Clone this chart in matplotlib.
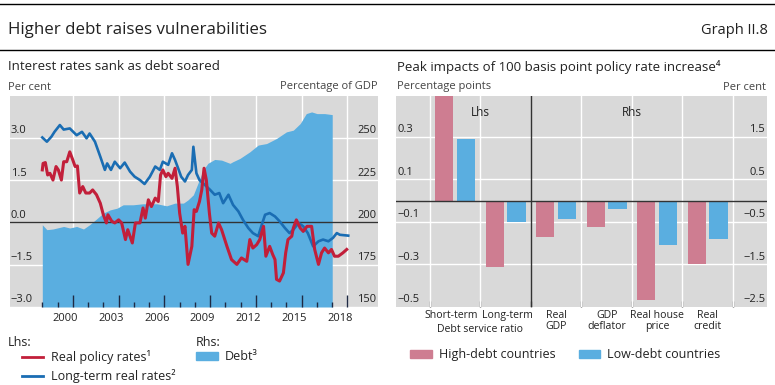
import matplotlib
matplotlib.use('Agg')
import matplotlib.pyplot as plt
import matplotlib.transforms as mtransforms
from matplotlib.patches import Patch
from matplotlib.lines import Line2D
import numpy as np

plt.rcParams['font.family'] = ['Open Sans', 'DejaVu Sans']

# ---- data: left panel ----
policy_t = [1999.0, 1999.05, 1999.2, 1999.35, 1999.5, 1999.7, 1999.9, 2000.05, 2000.25, 2000.4,
            2000.6, 2000.8, 2001.0, 2001.15, 2001.3, 2001.45, 2001.65, 2001.85, 2002.1, 2002.3,
            2002.55, 2002.8, 2003.0, 2003.2, 2003.3, 2003.55, 2003.75, 2004.0, 2004.2, 2004.45,
            2004.6, 2004.9, 2005.1, 2005.4, 2005.6, 2005.75, 2005.95, 2006.15, 2006.4, 2006.6,
            2006.75, 2006.9, 2007.1, 2007.25, 2007.5, 2007.7, 2007.85, 2008.0, 2008.2, 2008.35,
            2008.55, 2008.8, 2008.95, 2009.1, 2009.3, 2009.45, 2009.6, 2009.75, 2009.95, 2010.1,
            2010.3, 2010.55, 2010.75, 2011.1, 2011.4, 2011.75, 2012.05, 2012.4, 2012.6, 2012.8,
            2013.05, 2013.25, 2013.5, 2013.65, 2013.9, 2014.1, 2014.25, 2014.35, 2014.55, 2014.8,
            2014.95, 2015.1, 2015.35, 2015.45, 2015.65, 2015.9, 2016.1, 2016.35, 2016.65, 2016.85,
            2017.1, 2017.3, 2017.5, 2017.75, 2017.95, 2018.15, 2018.4, 2018.7, 2018.95]
policy_v = [1.86, 2.09, 2.12, 1.68, 1.74, 1.5, 1.98, 1.86, 1.5, 2.15,
            2.15, 2.5, 2.21, 1.98, 2.0, 1.04, 1.27, 1.04, 1.04, 1.15,
            0.98, 0.68, 0.27, -0.02, 0.27, 0.04, -0.02, 0.09, -0.02, -0.61,
            -0.26, -0.73, -0.02, -0.02, 0.51, 0.15, 0.8, 0.56, 0.86, 0.74,
            1.68, 1.86, 1.62, 1.74, 1.56, 1.92, 1.27, 0.33, -0.38, -0.14,
            -1.49, -0.85, 0.45, 0.39, 0.74, 1.15, 1.92, 1.5, 0.33, -0.38,
            -0.49, -0.02, -0.26, -0.85, -1.32, -1.49, -1.26, -1.38, -0.61, -0.91,
            -0.79, -0.61, -0.14, -1.2, -0.85, -1.14, -1.32, -2.02, -2.08, -1.79,
            -1.08, -0.61, -0.49, -0.2, 0.09, -0.2, -0.32, -0.14, -0.14, -0.96,
            -1.49, -1.08, -0.91, -1.08, -0.96, -1.2, -1.2, -1.08, -0.96]

longterm_t = [1999.0, 1999.3, 1999.6, 1999.8, 2000.15, 2000.4, 2000.8, 2001.25, 2001.6, 2001.9,
              2002.1, 2002.45, 2002.8, 2003.1, 2003.25, 2003.5, 2003.75, 2004.1, 2004.4, 2004.75,
              2005.05, 2005.4, 2005.7, 2006.05, 2006.4, 2006.7, 2006.9, 2007.25, 2007.5, 2007.7,
              2007.9, 2008.1, 2008.35, 2008.55, 2008.8, 2008.9, 2009.1, 2009.3, 2009.65, 2010.0,
              2010.3, 2010.6, 2010.85, 2011.2, 2011.5, 2011.85, 2012.15, 2012.5, 2012.8, 2013.15,
              2013.35, 2013.6, 2013.9, 2014.25, 2014.55, 2014.9, 2015.2, 2015.45, 2015.8, 2016.1,
              2016.4, 2016.75, 2017.1, 2017.4, 2017.75, 2018.05, 2018.3, 2018.5, 2019.05]
longterm_v = [3.01, 2.86, 3.04, 3.21, 3.45, 3.29, 3.33, 3.09, 3.21, 2.98,
              3.15, 2.86, 2.33, 1.86, 2.09, 1.86, 2.15, 1.92, 2.12, 1.8,
              1.62, 1.5, 1.36, 1.62, 1.98, 1.86, 2.15, 2.04, 2.45, 2.21,
              1.92, 1.62, 1.45, 1.68, 1.86, 2.68, 1.74, 1.5, 1.33, 1.15,
              0.98, 1.04, 0.68, 0.98, 0.62, 0.39, 0.09, -0.2, -0.38, -0.49,
              -0.14, 0.27, 0.33, 0.21, 0.04, -0.2, -0.38, -0.26, -0.02, -0.14,
              -0.38, -0.85, -0.67, -0.61, -0.67, -0.55, -0.38, -0.44, -0.47]

debt_t = [1999.0, 1999.3, 1999.7, 2000.4, 2000.8, 2001.25, 2001.7, 2002.1, 2002.55, 2003.0,
          2003.45, 2003.9, 2004.3, 2004.95, 2005.6, 2006.5, 2007.15, 2007.7, 2008.25, 2008.55,
          2008.9, 2009.2, 2009.55, 2009.85, 2010.3, 2010.75, 2011.3, 2011.5, 2011.95, 2012.6,
          2013.15, 2013.7, 2014.35, 2015.0, 2015.45, 2015.9, 2016.3, 2016.65, 2017.0, 2017.5, 2018.0]
debt_v = [198.6, 195.7, 196.1, 197.6, 196.7, 197.6, 196.1, 198.6, 202.0, 205.5,
          207.4, 208.4, 210.4, 210.4, 211.0, 211.0, 209.8, 211.4, 211.4, 213.3,
          216.3, 223.1, 231.0, 234.9, 237.2, 236.8, 234.9, 235.9, 237.8, 241.7,
          245.7, 246.6, 249.6, 253.5, 254.5, 258.4, 264.3, 265.3, 264.3, 264.3, 263.7]

left_ticks = [-3.0, -1.5, 0.0, 1.5, 3.0]
left_rticks = [150, 175, 200, 225, 250]
year_labels = [2000, 2003, 2006, 2009, 2012, 2015, 2018]

# ---- data: right panel ----
categories = ['Short-term', 'Long-term', 'Real\nGDP', 'GDP\ndeflator', 'Real house\nprice', 'Real\ncredit']
lhs_group_label = 'Debt service ratio'
high_debt = [0.49, -0.31, -0.85, -0.62, -2.34, -1.48]
low_debt = [0.29, -0.10, -0.44, -0.19, -1.05, -0.91]
n_lhs = 2
right_lticks = [-0.5, -0.3, -0.1, 0.1, 0.3]
right_rticks = [-2.5, -1.5, -0.5, 0.5, 1.5]

BG = '#D9D9D9'
RED = '#C21F3A'
BLUE = '#1A6DB3'
LBLUE = '#5AAEE0'
PINK = '#CE7D91'
TXT = '#222222'

W, H = 775, 385
fig = plt.figure(figsize=(W / 100, H / 100), dpi=100)


def fx(px):
    return px / W


def fy(py):
    return 1 - py / H


def mns(v, fmt):
    return (fmt % v).replace('-', '\u2212')


def shift(dx, dy):
    # offset in pixels (figure is at 100 dpi)
    return mtransforms.ScaledTranslation(dx / 100, dy / 100, fig.dpi_scale_trans)


# header
fig.add_artist(Line2D([0, 1], [fy(4), fy(4)], color='black', lw=1.0))
fig.add_artist(Line2D([0, 1], [fy(50), fy(50)], color='black', lw=1.0))
fig.text(fx(8), fy(30), 'Higher debt raises vulnerabilities', fontsize=12.2, va='center', color=TXT)
fig.text(fx(768), fy(30), 'Graph II.8', fontsize=10.5, va='center', ha='right', color=TXT)
fig.text(fx(8), fy(67), 'Interest rates sank as debt soared', fontsize=9.5, va='center', color=TXT)
fig.text(fx(397), fy(67), 'Peak impacts of 100 basis point policy rate increase\u2074', fontsize=9.5,
         va='center', color=TXT)
fig.text(fx(8), fy(87), 'Per cent', fontsize=8, va='center', color='#444444')
fig.text(fx(378), fy(87), 'Percentage of GDP', fontsize=8, va='center', ha='right', color='#444444')
fig.text(fx(397), fy(87), 'Percentage points', fontsize=8, va='center', color='#444444')
fig.text(fx(766), fy(87), 'Per cent', fontsize=8, va='center', ha='right', color='#444444')

up = shift(0, 7)

# ---- left panel ----
rect = [fx(9.5), fy(307), (378 - 9.5) / W, (307 - 96) / H]
axb = fig.add_axes(rect)
axb.set_facecolor(BG)
axb.set_xlim(1996.85, 2021.0)
axb.set_ylim(150, 274.7)
axb.fill_between(debt_t, debt_v, 150, color=LBLUE, lw=0, zorder=1)
axb.set_axisbelow(True)
axb.set_xticks(np.arange(2001, 2020, 3))
axb.set_xticks([y + 0.5 for y in year_labels], [str(y) for y in year_labels], minor=True)
axb.set_yticks(left_rticks)
axb.grid(True, which='major', color='white', lw=1.0)
axb.tick_params(which='both', length=0, labelleft=False, labelbottom=False)
axb.tick_params(axis='x', which='minor', labelbottom=True, labelsize=8, pad=4, colors=TXT)
for s in axb.spines.values():
    s.set_visible(False)

axf = fig.add_axes(rect)
axf.patch.set_visible(False)
axf.set_xlim(1996.85, 2021.0)
axf.set_ylim(-3.0, 4.48)
axf.plot(longterm_t, longterm_v, color=BLUE, lw=1.9, zorder=3)
axf.plot(policy_t, policy_v, color=RED, lw=2.2, zorder=4)
axf.axhline(0, color='#333333', lw=1.0, zorder=2)
axf.set_xticks(np.arange(2001, 2020, 3))
axf.set_xticks(np.arange(1999, 2020, 1), minor=True)
axf.set_yticks([])
axf.tick_params(axis='x', which='major', direction='in', length=8.5, width=1.0, color='#1F2A44',
                labelbottom=False)
axf.tick_params(axis='x', which='minor', direction='in', length=3.6, width=1.0, color='#1F2A44')
for s in axf.spines.values():
    s.set_visible(False)

blend_l = mtransforms.blended_transform_factory(axf.transAxes, axf.transData)
for v in left_ticks:
    axf.text(0.004, v, mns(v, '%.1f'), transform=blend_l + up, fontsize=8, va='center', ha='left',
             color=TXT)
blend_r = mtransforms.blended_transform_factory(axb.transAxes, axb.transData)
for v in left_rticks:
    axb.text(0.996, v, '%d' % v, transform=blend_r + up, fontsize=8, va='center', ha='right',
             color=TXT)

# legends left
fig.text(fx(8), fy(343), 'Lhs:', fontsize=9, va='center', color=TXT)
fig.text(fx(196), fy(343), 'Rhs:', fontsize=9, va='center', color=TXT)
h1 = [Line2D([], [], color=RED, lw=2.0), Line2D([], [], color=BLUE, lw=2.0)]
leg1 = fig.legend(h1, ['Real policy rates\u00b9', 'Long-term real rates\u00b2'], loc='upper left',
                  bbox_to_anchor=(fx(22), fy(350)), frameon=False, fontsize=9, borderpad=0,
                  borderaxespad=0, handlelength=1.7, handletextpad=0.6, labelspacing=0.4)
for t in leg1.get_texts():
    t.set_color(TXT)
leg2 = fig.legend([Patch(color=LBLUE)], ['Debt\u00b3'], loc='upper left',
                  bbox_to_anchor=(fx(196), fy(350)), frameon=False, fontsize=9, borderpad=0,
                  borderaxespad=0, handlelength=1.75, handleheight=0.62, handletextpad=0.55)
for t in leg2.get_texts():
    t.set_color(TXT)

# ---- right panel ----
rect2 = [fx(396), fy(307), (766.7 - 396) / W, (307 - 96) / H]
axr = fig.add_axes(rect2)
axr.set_facecolor(BG)
axr.set_xlim(-1.17, 6.17)
axr.set_ylim(-0.5, 0.491)
axr2 = axr.twinx()
axr2.set_ylim(-2.5, 2.455)

x = np.arange(len(categories))
bw = 0.363
off = 0.214
axr.bar(x[:n_lhs] - off, high_debt[:n_lhs], bw, color=PINK, zorder=2)
axr.bar(x[:n_lhs] + off, low_debt[:n_lhs], bw, color=LBLUE, zorder=2)
axr2.bar(x[n_lhs:] - off, high_debt[n_lhs:], bw, color=PINK, zorder=2)
axr2.bar(x[n_lhs:] + off, low_debt[n_lhs:], bw, color=LBLUE, zorder=2)

seps = np.arange(-0.5, len(categories), 1.0)
axr.set_axisbelow(True)
axr.set_yticks(right_lticks[1:])
axr.yaxis.grid(True, color='white', lw=1.0)
for s in seps:
    if s != n_lhs - 0.5:
        axr.axvline(s, color='white', lw=1.0, zorder=0.6)
axr2.axhline(0, color='#333333', lw=1.0, zorder=3)
axr2.axvline(n_lhs - 0.5, color='#333333', lw=1.0, zorder=3)

axr.set_xticks(seps)
axr.set_xticks(x, categories, minor=True)
axr.tick_params(axis='x', which='major', direction='in', length=4.5, width=1.0, color='#555555',
                labelbottom=False)
axr.tick_params(axis='x', which='minor', length=0, labelsize=7.6, pad=2)
for lab in axr.get_xticklabels(minor=True):
    lab.set_color(TXT)
    lab.set_linespacing(1.05)
# the two Lhs labels sit a little apart in the original
lbls = axr.get_xticklabels(minor=True)
lbls[0].set_transform(lbls[0].get_transform() + shift(-4, 0))
lbls[1].set_transform(lbls[1].get_transform() + shift(1.5, 0))
blend_bot = mtransforms.blended_transform_factory(axr.transData, axr.transAxes)
axr.text(x[0] + 0.5, 0, lhs_group_label, transform=blend_bot + shift(0, -22), ha='center',
         va='center', fontsize=7.6, color=TXT)
axr.tick_params(axis='y', length=0, labelleft=False)
axr2.tick_params(axis='y', length=0, labelright=False)
for a in (axr, axr2):
    for s in a.spines.values():
        s.set_visible(False)

blend_rl = mtransforms.blended_transform_factory(axr.transAxes, axr.transData)
for v in right_lticks:
    axr.text(0.004, v, mns(v, '%.1f'), transform=blend_rl + up, fontsize=8, va='center', ha='left',
             color=TXT)
blend_rr = mtransforms.blended_transform_factory(axr2.transAxes, axr2.transData)
for v in right_rticks:
    axr2.text(0.996, v, mns(v, '%.1f'), transform=blend_rr + up, fontsize=8, va='center', ha='right',
              color=TXT)

blend_top = mtransforms.blended_transform_factory(axr2.transData, axr2.transAxes)
axr2.text(x[0] + 0.5, 0.92, 'Lhs', transform=blend_top, ha='center', va='center', fontsize=8.5, color=TXT)
axr2.text((x[n_lhs] + x[-1]) / 2, 0.92, 'Rhs', transform=blend_top, ha='center', va='center',
          fontsize=8.5, color=TXT)

h3 = [Patch(color=PINK), Patch(color=LBLUE)]
leg3 = fig.legend(h3, ['High-debt countries', 'Low-debt countries'], loc='center left',
                  bbox_to_anchor=(fx(410), fy(354.5)), frameon=False, fontsize=9, ncol=2,
                  borderpad=0, borderaxespad=0, handlelength=1.75, handleheight=0.62,
                  handletextpad=0.55, columnspacing=1.85)
for t in leg3.get_texts():
    t.set_color(TXT)

fig.savefig('out.png', dpi=100)
